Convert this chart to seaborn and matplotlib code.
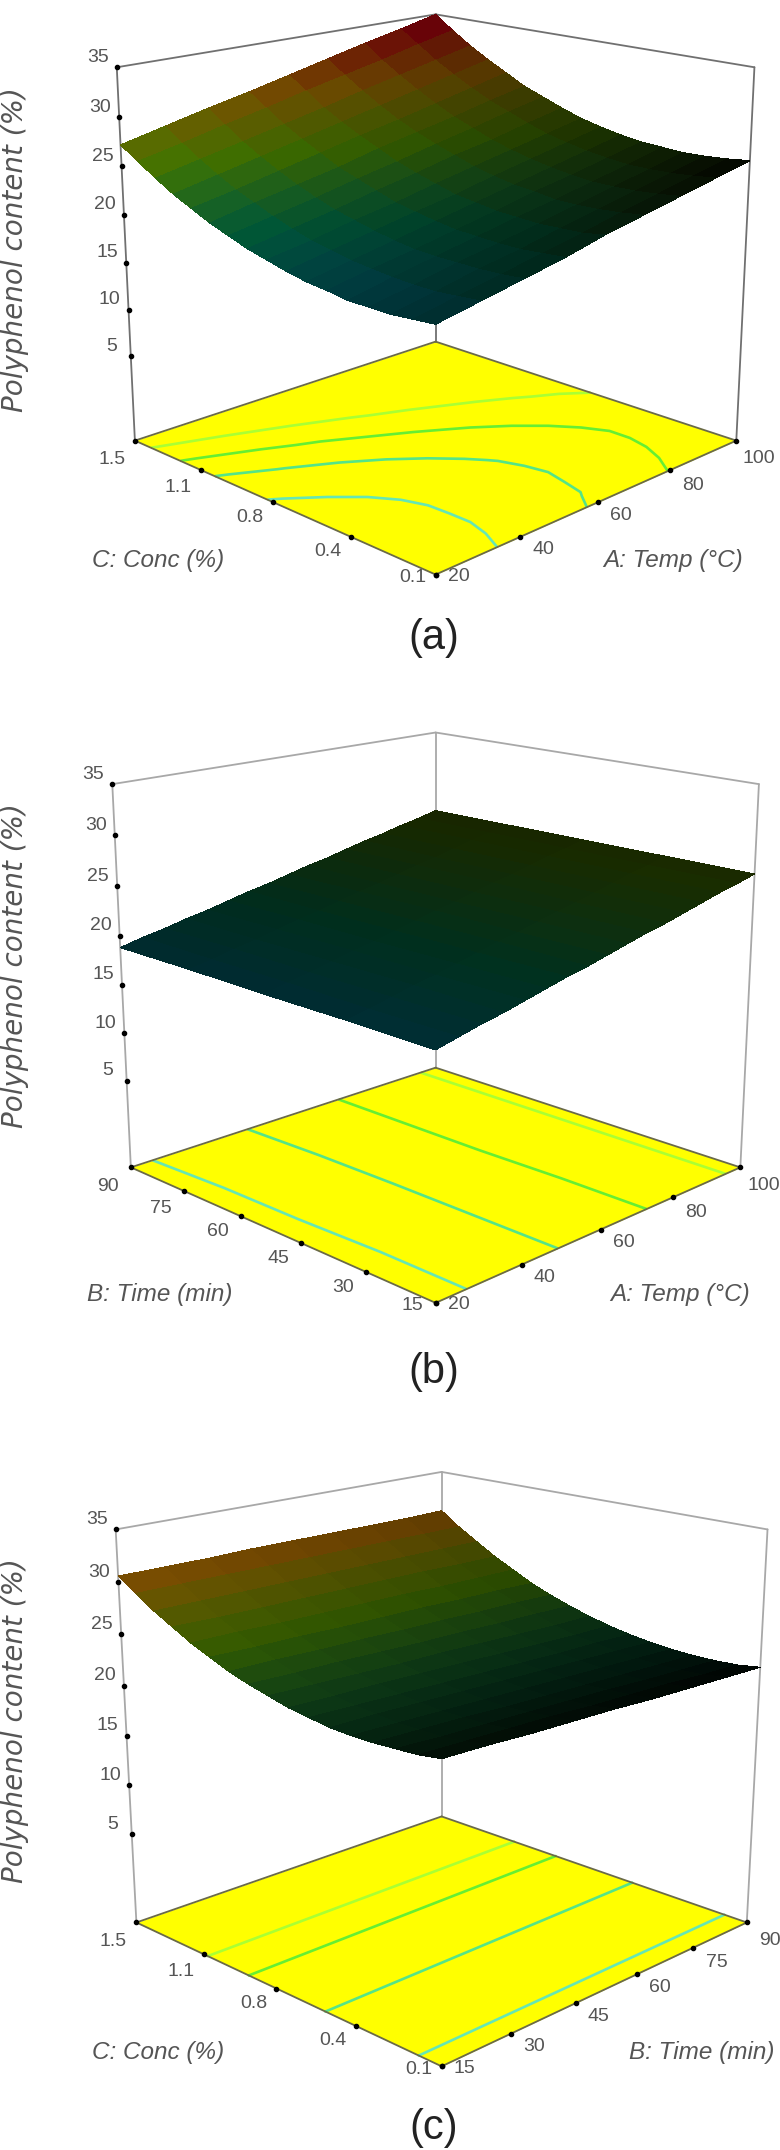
import numpy as np
import matplotlib
matplotlib.use('Agg')
import matplotlib.pyplot as plt
import seaborn as sns
from mpl_toolkits.mplot3d import proj3d

# axis grids of the surfaces
temp_grid = [20, 30, 40, 50, 60, 70, 80, 90, 100]
temp_fine = [20, 25, 30, 35, 40, 45, 50, 55, 60, 65, 70, 75, 80, 85, 90, 95, 100]
time_grid = [15, 24.375, 33.75, 43.125, 52.5, 61.875, 71.25, 80.625, 90]
time_rows = [15, 33.75, 52.5, 71.25, 90]
conc_fine = [0.1, 0.1875, 0.275, 0.3625, 0.45, 0.5375, 0.625, 0.7125, 0.8,
             0.8875, 0.975, 1.0625, 1.15, 1.2375, 1.325, 1.4125, 1.5]

temp_ticks = [20, 40, 60, 80, 100]
temp_labels = ['20', '40', '60', '80', '100']
conc_ticks = [0.1, 0.45, 0.8, 1.15, 1.5]
conc_labels = ['0.1', '0.4', '0.8', '1.1', '1.5']
time_ticks = [15, 30, 45, 60, 75, 90]
time_labels = ['15', '30', '45', '60', '75', '90']
z_ticks = [5, 10, 15, 20, 25, 30, 35]

surface_a = [
    [19.0, 19.8, 20.6, 21.4, 22.4, 23.2, 24.0, 24.8, 25.6],
    [18.8, 19.6, 20.4, 21.2, 22.0, 22.9, 23.7, 24.5, 25.3],
    [18.6, 19.4, 20.3, 21.0, 21.9, 22.7, 23.5, 24.3, 25.1],
    [18.6, 19.4, 20.3, 21.0, 21.8, 22.6, 23.4, 24.2, 25.0],
    [18.6, 19.5, 20.3, 21.1, 21.9, 22.6, 23.4, 24.2, 25.1],
    [18.9, 19.7, 20.4, 21.2, 22.0, 22.9, 23.6, 24.4, 25.2],
    [19.1, 19.9, 20.7, 21.5, 22.3, 23.1, 23.9, 24.7, 25.5],
    [19.5, 20.3, 21.1, 21.9, 22.6, 23.5, 24.3, 25.1, 25.9],
    [20.0, 20.7, 21.6, 22.3, 23.2, 24.0, 24.8, 25.6, 26.4],
    [20.5, 21.3, 22.1, 23.0, 23.8, 24.7, 25.4, 26.3, 27.1],
    [21.2, 22.0, 22.8, 23.7, 24.5, 25.4, 26.2, 27.1, 27.9],
    [21.9, 22.8, 23.6, 24.4, 25.4, 26.2, 27.0, 27.9, 28.7],
    [22.8, 23.6, 24.5, 25.4, 26.3, 27.1, 28.0, 28.9, 29.8],
    [23.7, 24.6, 25.5, 26.4, 27.3, 28.2, 29.1, 30.0, 30.9],
    [24.8, 25.7, 26.6, 27.5, 28.4, 29.4, 30.3, 31.2, 32.1],
    [26.0, 26.9, 27.9, 28.8, 29.8, 30.7, 31.6, 32.6, 33.5],
    [27.2, 28.2, 29.2, 30.1, 31.1, 32.1, 33.1, 34.0, 35.0],
]
surface_b = [
    [18.6, 19.1, 19.6, 20.0, 20.5, 21.0, 21.5, 21.9, 22.4, 22.9, 23.4, 23.8, 24.3, 24.8, 25.3, 25.7, 26.2],
    [18.7, 19.1, 19.6, 20.1, 20.5, 21.0, 21.5, 22.0, 22.4, 22.9, 23.4, 23.8, 24.3, 24.8, 25.3, 25.7, 26.2],
    [18.7, 19.2, 19.6, 20.1, 20.6, 21.0, 21.5, 22.0, 22.5, 22.9, 23.4, 23.9, 24.3, 24.8, 25.3, 25.7, 26.2],
    [18.8, 19.2, 19.7, 20.1, 20.6, 21.1, 21.5, 22.0, 22.5, 22.9, 23.4, 23.9, 24.3, 24.8, 25.3, 25.7, 26.2],
    [18.8, 19.3, 19.7, 20.2, 20.6, 21.1, 21.6, 22.0, 22.5, 23.0, 23.4, 23.9, 24.4, 24.8, 25.3, 25.7, 26.2],
]
surface_c = [
    [22.8, 22.7, 22.5, 22.4, 22.3, 22.1, 22.0, 21.9, 21.8],
    [22.5, 22.4, 22.3, 22.2, 22.0, 21.9, 21.8, 21.6, 21.5],
    [22.4, 22.2, 22.1, 22.0, 21.9, 21.8, 21.6, 21.5, 21.4],
    [22.3, 22.2, 22.1, 21.9, 21.8, 21.7, 21.6, 21.5, 21.4],
    [22.3, 22.2, 22.1, 22.0, 21.9, 21.8, 21.7, 21.6, 21.5],
    [22.4, 22.4, 22.3, 22.2, 22.1, 22.0, 21.9, 21.8, 21.7],
    [22.7, 22.6, 22.5, 22.4, 22.3, 22.2, 22.1, 22.1, 22.0],
    [23.0, 22.9, 22.9, 22.8, 22.7, 22.6, 22.5, 22.4, 22.4],
    [23.5, 23.4, 23.3, 23.2, 23.2, 23.1, 23.0, 22.9, 22.9],
    [24.0, 23.9, 23.9, 23.8, 23.7, 23.7, 23.6, 23.6, 23.5],
    [24.6, 24.6, 24.5, 24.5, 24.4, 24.4, 24.3, 24.3, 24.2],
    [25.4, 25.3, 25.3, 25.2, 25.2, 25.2, 25.1, 25.1, 25.0],
    [26.2, 26.2, 26.1, 26.1, 26.1, 26.1, 26.0, 26.0, 26.0],
    [27.2, 27.1, 27.1, 27.1, 27.1, 27.1, 27.1, 27.0, 27.0],
    [28.2, 28.2, 28.2, 28.2, 28.2, 28.2, 28.2, 28.2, 28.2],
    [29.4, 29.4, 29.4, 29.4, 29.4, 29.4, 29.4, 29.4, 29.4],
    [30.6, 30.6, 30.6, 30.7, 30.7, 30.7, 30.7, 30.7, 30.8],
]

# contour levels on the floor, low to high
levels_a = [20.15, 22.1, 23.95, 26.0]
levels_b = [19.3, 21.4, 23.6, 25.75]
# in (c) the floor lines run straight along the time axis
lines_c_conc = [0.19, 0.58, 0.93, 1.13]

sns.set_theme(style='white')
plt.rcParams['font.family'] = ['Liberation Sans', 'DejaVu Sans']

W, H = 780, 2150
Z_MIN, Z_MAX = -4.3, 35
AXES_PX = 710
contour_colors = ['#66e6b4', '#55e488', '#66ee33', '#aaff33']
surf_cmap = sns.blend_palette(['#005082', '#006e46', '#467d00', '#7d5500', '#7d000a'], as_cmap=True)
TEXT_GREY = '#555555'

fig = plt.figure(figsize=(W / 100, H / 100), dpi=100)


def draw_panel(center, elev, box_z, zoom, left, right, surface, levels, brightness, wall_color,
               left_dy, right_dy):
    cx, cy = center
    ax = fig.add_axes([(cx - AXES_PX / 2) / W, 1 - (cy + AXES_PX / 2) / H, AXES_PX / W, AXES_PX / H],
                      projection='3d', computed_zorder=False)
    ax.patch.set_alpha(0)
    ax.set_box_aspect((1, 1, box_z), zoom=zoom)
    ax.set_proj_type('persp', focal_length=0.5)
    ax.view_init(elev=elev, azim=-135)

    x_grid, x_ticks, x_labels = right
    y_grid, y_ticks, y_labels = left
    x0, x1 = x_grid[0], x_grid[-1]
    y0, y1 = y_grid[0], y_grid[-1]
    ax.set_xlim(x0, x1)
    ax.set_ylim(y0, y1)
    ax.set_zlim(Z_MIN, Z_MAX)
    ax.set_axis_off()

    X, Y = np.meshgrid(x_grid, y_grid)
    Z = np.array(surface)

    # floor
    ax.plot_surface(np.array([[x0, x1], [x0, x1]]), np.array([[y0, y0], [y1, y1]]),
                    np.full((2, 2), Z_MIN), color='#ffff00', shade=False, linewidth=0, zorder=1)

    # floor contours
    if levels is not None:
        ax.contour(X, Y, Z, levels=levels, colors=contour_colors, linewidths=1.9,
                   zdir='z', offset=Z_MIN, zorder=2)
    else:
        for c, color in zip(lines_c_conc, contour_colors):
            ax.plot([x0, x1], [c, c], [Z_MIN, Z_MIN], color=color, lw=1.9, zorder=2)

    # box frame
    for xs, ys, zs in [([x0, x0], [y1, y1], [Z_MIN, Z_MAX]),
                       ([x1, x1], [y0, y0], [Z_MIN, Z_MAX]),
                       ([x1, x1], [y1, y1], [Z_MIN, Z_MAX]),
                       ([x0, x1], [y1, y1], [Z_MAX, Z_MAX]),
                       ([x1, x1], [y1, y0], [Z_MAX, Z_MAX])]:
        ax.plot(xs, ys, zs, color=wall_color, lw=1.3, zorder=3)
    for xs, ys in [([x0, x1], [y0, y0]), ([x1, x1], [y0, y1]), ([x1, x0], [y1, y1]), ([x0, x0], [y1, y0])]:
        ax.plot(xs, ys, [Z_MIN, Z_MIN], color='#6a6a48', lw=1.3, zorder=3)

    # surface, coloured by height at the cell centre and darkened per corner
    Zc = (Z[:-1, :-1] + Z[1:, :-1] + Z[:-1, 1:] + Z[1:, 1:]) / 4
    u = ((np.arange(Z.shape[1] - 1) + 0.5) / (Z.shape[1] - 1))[None, :]
    v = ((np.arange(Z.shape[0] - 1) + 0.5) / (Z.shape[0] - 1))[:, None]
    front, right_c, left_c, back = brightness
    shade = (1 - u) * (1 - v) * front + u * (1 - v) * right_c + (1 - u) * v * left_c + u * v * back
    colors = surf_cmap(np.clip((Zc - 17) / 17, 0, 1))
    colors[..., :3] = colors[..., :3] * shade[..., None]
    ax.plot_surface(X, Y, Z, facecolors=colors, rstride=1, cstride=1, shade=False,
                    linewidth=0, antialiased=False, zorder=4)

    # tick dots
    ax.scatter([x0] * len(z_ticks), [y1] * len(z_ticks), z_ticks, c='black', s=9, depthshade=False, zorder=5)
    ax.scatter(x_ticks, [y0] * len(x_ticks), [Z_MIN] * len(x_ticks), c='black', s=9, depthshade=False, zorder=5)
    ax.scatter([x0] * len(y_ticks), y_ticks, [Z_MIN] * len(y_ticks), c='black', s=9, depthshade=False, zorder=5)

    # tick labels
    M = ax.get_proj()
    for tick in z_ticks:
        px, py, _ = proj3d.proj_transform(x0, y1, tick, M)
        ax.annotate(str(tick), (px, py), xytext=(-19, 10), textcoords='offset pixels', ha='center', va='center',
                    fontsize=14, color=TEXT_GREY)
    for tick, label, dy in zip(x_ticks, x_labels, right_dy):
        px, py, _ = proj3d.proj_transform(tick, y0, Z_MIN, M)
        ax.annotate(label, (px, py), xytext=(23, dy), textcoords='offset pixels', ha='center', va='center',
                    fontsize=14, color=TEXT_GREY)
    for tick, label, dy in zip(y_ticks, y_labels, left_dy):
        px, py, _ = proj3d.proj_transform(x0, tick, Z_MIN, M)
        ax.annotate(label, (px, py), xytext=(-23, dy), textcoords='offset pixels', ha='center', va='center',
                    fontsize=14, color=TEXT_GREY)


def label(x, y, text, **kw):
    fig.text(x / W, 1 - y / H, text, ha='center', va='center', **kw)


# (a)
draw_panel((426, 269), 16.75, 0.89, 1.0,
           (conc_fine, conc_ticks, conc_labels), (temp_grid, temp_ticks, temp_labels),
           surface_a, levels_a, (0.5, 0.03, 1.0, 0.85), '#707070',
           [-3, -15, -15, -17, -19], [-2, -13, -13, -15, -18])
# (b)
draw_panel((426, 991), 16.5, 0.9, 1.017,
           (time_rows, time_ticks, time_labels), (temp_fine, temp_ticks, temp_labels),
           surface_b, levels_b, (0.5, 0.35, 0.45, 0.3), '#a8a8a8',
           [-3, -15, -15, -15, -17, -19], [-2, -13, -13, -15, -18])
# (c), "90" moved in a little so it stays on the canvas
draw_panel((432, 1742), 17.8, 0.925, 1.03,
           (conc_fine, conc_ticks, conc_labels), (time_grid, time_ticks, time_labels),
           surface_c, None, (0.12, 0.02, 1.0, 0.8), '#a8a8a8',
           [-3, -15, -15, -17, -19], [-2, -13, -13, -13, -15, -18])

axis_font = dict(fontsize=17.5, style='italic', color=TEXT_GREY)
label(158, 560, 'C: Conc (%)', **axis_font)
label(673, 560, 'A: Temp (°C)', **axis_font)
label(160, 1294, 'B: Time (min)', **axis_font)
label(680, 1294, 'A: Temp (°C)', **axis_font)
label(158, 2053, 'C: Conc (%)', **axis_font)
label(702, 2052, 'B: Time (min)', **axis_font)

for y in [250, 966, 1721]:
    label(15, y, 'Polyphenol content (%)', rotation=90, fontsize=20, style='italic',
          color=TEXT_GREY, family='DejaVu Sans')

for y, cap in [(638, '(a)'), (1372, '(b)'), (2128, '(c)')]:
    label(434, y, cap, fontsize=30, color='#222222')

fig.savefig('out.png', dpi=100)
